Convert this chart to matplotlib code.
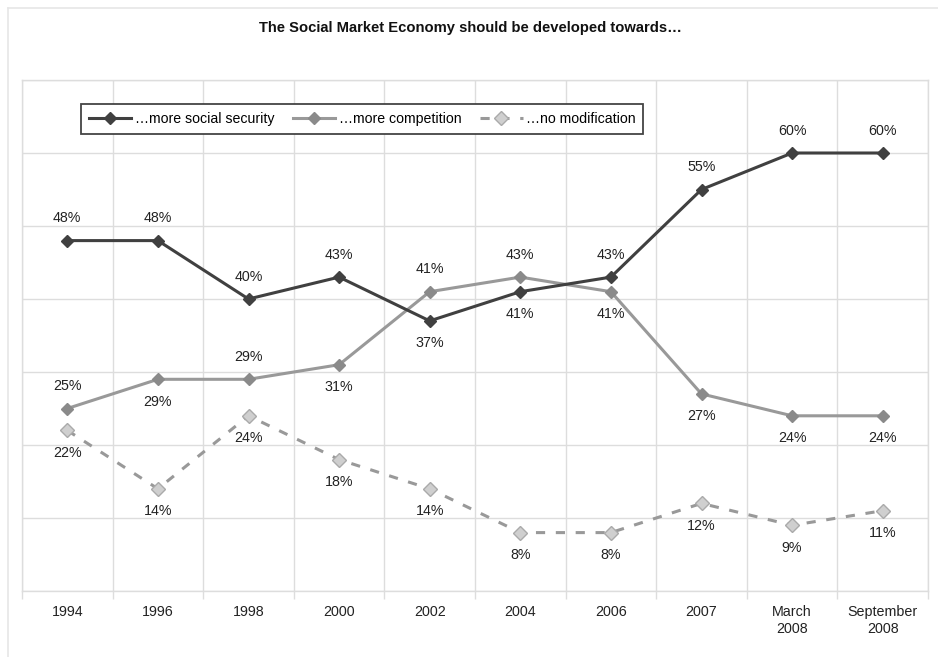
import matplotlib
matplotlib.use("Agg")
import matplotlib.pyplot as plt
import numpy as np

categories = ["1994", "1996", "1998", "2000", "2002", "2004", "2006", "2007", "March\n2008", "September\n2008"]
social_security = [48, 48, 40, 43, 37, 41, 43, 55, 60, 60]
competition = [25, 29, 29, 31, 41, 43, 41, 27, 24, 24]
no_modification = [22, 14, 24, 18, 14, 8, 8, 12, 9, 11]

# label placement: 1 above, -1 below
ss_pos = [1, 1, 1, 1, -1, -1, 1, 1, 1, 1]
co_pos = [1, -1, 1, -1, 1, 1, -1, -1, -1, -1]
nm_pos = [-1] * 10

plt.rcParams['font.family'] = ['Liberation Sans', 'DejaVu Sans']

fig = plt.figure(figsize=(9.38, 6.57), dpi=100)
ax = fig.add_axes([22/938, 1 - 591/657, (928-22)/938, (591-80)/657])

x = np.arange(len(categories))

ax.plot(x, no_modification, linestyle=(0, (3, 3.5)), color="#999999", linewidth=2.2,
        marker="D", markersize=7.5, markerfacecolor="#cfcfcf", markeredgecolor="#aaaaaa",
        markeredgewidth=1.0, label="…no modification", zorder=3)
ax.plot(x, competition, color="#999999", linewidth=2.2, marker="D", markersize=6.5,
        markerfacecolor="#8a8a8a", markeredgecolor="#8a8a8a", label="…more competition", zorder=4)
ax.plot(x, social_security, color="#404040", linewidth=2.2, marker="D", markersize=6.5,
        markerfacecolor="#404040", markeredgecolor="#404040", label="…more social security", zorder=5)

def annotate(vals, pos):
    for xi, v, p in zip(x, vals, pos):
        ax.annotate(f"{v}%", (xi, v), xytext=(0, 16 * p), textcoords="offset points",
                    ha="center", va="center", fontsize=10.3, color="#222222", zorder=6)

annotate(social_security, ss_pos)
annotate(competition, co_pos)
annotate(no_modification, nm_pos)

ax.set_xlim(-0.5, len(categories) - 0.5)
ax.set_ylim(0, 70)
ax.set_yticks(np.arange(0, 71, 10))
ax.set_yticklabels([])
ax.tick_params(axis="y", length=0)
ax.set_xticks(x)
ax.set_xticklabels(categories, fontsize=10.3, color="#222222", linespacing=1.3)
ax.set_xticks(np.arange(-0.5, len(categories)), minor=True)
ax.tick_params(axis="x", which="major", length=0, pad=10)
ax.tick_params(axis="x", which="minor", length=6, color="#dddddd", width=1)
ax.grid(True, axis="y", which="major", color="#dddddd", linewidth=1)
ax.grid(True, axis="x", which="minor", color="#dddddd", linewidth=1)
for s in ax.spines.values():
    s.set_color("#dddddd")
    s.set_linewidth(1)

handles, labels = ax.get_legend_handles_labels()
order = [2, 1, 0]
leg = ax.legend([handles[i] for i in order], [labels[i] for i in order],
                loc="upper left", bbox_to_anchor=(0.0575, 0.967), ncol=3, fontsize=10.2,
                frameon=True, fancybox=False, edgecolor="#444444", framealpha=1,
                handlelength=3.0, columnspacing=1.3, handletextpad=0.25, borderpad=0.55)
leg.get_frame().set_linewidth(1.3)

fig.text(470/938, 1 - 28/657, "The Social Market Economy should be developed towards…",
         ha="center", va="center", fontsize=10.6, fontweight="bold", color="#111111")

# faint outer frame
fig.add_artist(plt.Line2D([8/938, 1], [1 - 8/657, 1 - 8/657], transform=fig.transFigure, color="#e6e6e6", linewidth=1.2))
fig.add_artist(plt.Line2D([8/938, 8/938], [0, 1 - 8/657], transform=fig.transFigure, color="#e6e6e6", linewidth=1.2))

fig.savefig("out.png", dpi=100)
